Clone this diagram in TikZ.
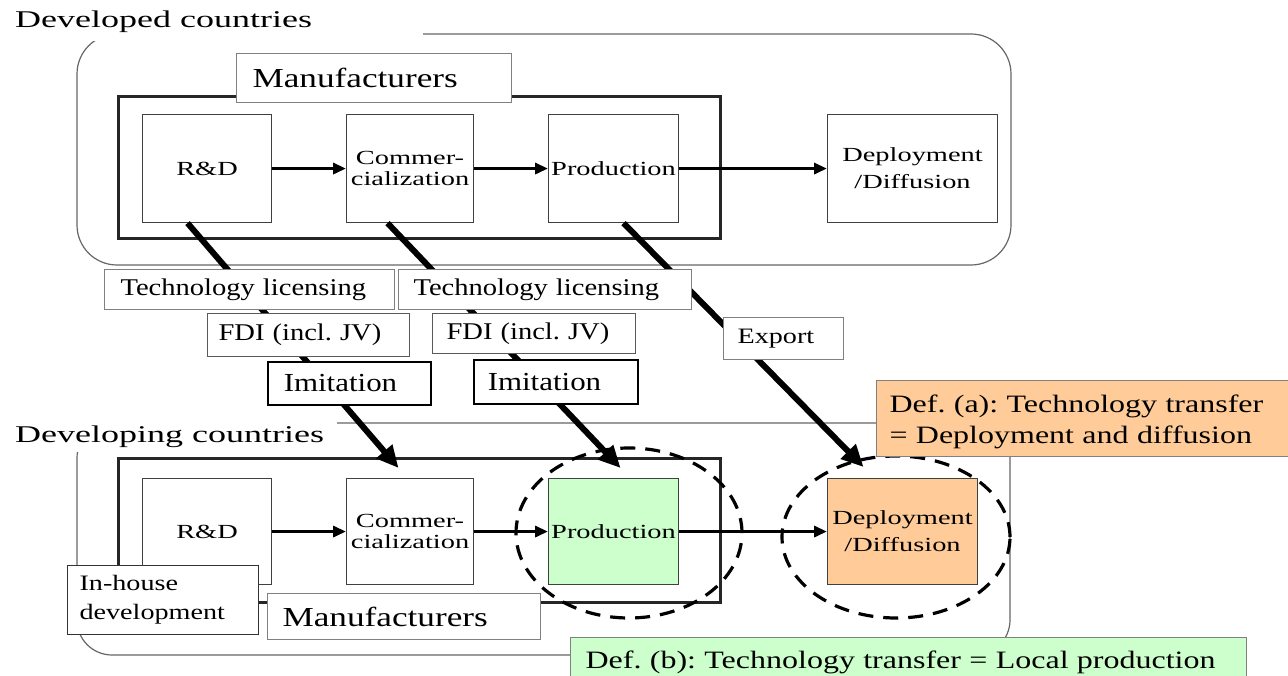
\documentclass[tikz,border=0pt]{standalone}
\usepackage{fontspec}
\setmainfont{Liberation Serif}
\newfontfamily\famA{Liberation Serif}[FakeStretch=1.42]
\newfontfamily\famB{Liberation Serif}[FakeStretch=1.28]
\newfontfamily\famC{Liberation Serif}[FakeStretch=1.19]
\newfontfamily\famD{Liberation Serif}[FakeStretch=1.5]
\usetikzlibrary{arrows.meta}
\definecolor{lgreen}{HTML}{CCFFCC}
\definecolor{lorange}{HTML}{FFCC99}
\frenchspacing
\begin{document}
\frenchspacing
\begin{tikzpicture}[x=1pt,y=-1pt,
  outerbox/.style={draw=black!60, line width=1.2pt},
  thickbox/.style={draw=black!85, line width=3pt},
  procbox/.style={draw=black!75, line width=1.1pt, fill=white, anchor=north west,
    inner sep=0pt, align=center, font=\famA\fontsize{20}{21}\selectfont},
  lblbox/.style={draw=black!50, line width=1.1pt, fill=white, anchor=north west,
    inner ysep=0pt, align=left},
  imbox/.style={lblbox, draw=black, line width=1.5pt},
  harrow/.style={line width=3.3pt, -{Triangle[length=13pt,width=11pt]}},
  darrow/.style={line width=6pt, -{Triangle[length=22pt,width=20pt]}},
  dashring/.style={draw=black, line width=3.2pt, dash pattern=on 15pt off 10pt},
  cfont/.style={font=\famD\fontsize{24}{28}\selectfont},
  mfont/.style={font=\famB\fontsize{27.5}{30}\selectfont},
  tfont/.style={font=\famC\fontsize{24}{28}\selectfont\frenchspacing},
  ifont/.style={font=\famC\fontsize{26}{30}\selectfont},
]
\useasboundingbox (0,0) rectangle (1288,676);
\clip (0,0) rectangle (1288,676);
\fill[white] (0,0) rectangle (1288,676);

% outer country frames
\draw[outerbox, rounded corners=40pt] (77,34) rectangle (1011,265);
\draw[outerbox, rounded corners=35pt] (77,423) rectangle (1010,655);
\fill[white] (0,0) rectangle (423,41);
\fill[white] (0,410) rectangle (337,452);
\node[cfont, anchor=base west, inner sep=0pt] (devd) at (15,28) {Developed countries};
\node[cfont, anchor=base west, inner sep=0pt] (devg) at (15,442) {Developing countries};

% manufacturer frames
\draw[thickbox] (118,97) rectangle (720,239);
\draw[thickbox] (118,458) rectangle (720,602);
\node[lblbox, mfont, minimum width=275, minimum height=49, inner xsep=16pt, text width=243pt] (mf1) at (236,53) {Manufacturers};

% process boxes, developed
\node[procbox, minimum width=129, minimum height=108] (rd1) at (142,114) {R\&D};
\node[procbox, minimum width=127, minimum height=108] (co1) at (346,114) {Commer-\\cialization};
\node[procbox, minimum width=130, minimum height=108] (pr1) at (548,114) {Production};
\node[procbox, minimum width=170, minimum height=108, font=\famA\fontsize{20}{27}\selectfont] (de1) at (827,114) {Deployment\\/Diffusion};

% process boxes, developing
\node[procbox, minimum width=129, minimum height=106] (rd2) at (142,478) {R\&D};
\node[procbox, minimum width=127, minimum height=106] (co2) at (346,478) {Commer-\\cialization};
\node[procbox, minimum width=130, minimum height=106, fill=lgreen] (pr2) at (548,478) {Production};
\node[procbox, minimum width=150, minimum height=106, fill=lorange, font=\famA\fontsize{20}{27}\selectfont] (de2) at (827,478) {Deployment\\/Diffusion};

% dashed rings
\draw[dashring] (629,533) ellipse [x radius=113pt, y radius=85pt];
\draw[dashring] (896,537) ellipse [x radius=114pt, y radius=81pt];

% flow arrows
\draw[harrow] (rd1) -- (co1);
\draw[harrow] (co1) -- (pr1);
\draw[harrow] (pr1) -- (de1);
\draw[harrow] (rd2) -- (co2);
\draw[harrow] (co2) -- (pr2);
\draw[harrow] (pr2) -- (de2);

% transfer channels
\draw[darrow] ([xshift=-19.5pt]rd1.south) -- ([xshift=-11.5pt,yshift=10pt]co2.north);
\draw[darrow] ([xshift=-22.5pt]co1.south) -- ([xshift=7pt,yshift=10pt]pr2.north);
\draw[darrow] ([xshift=10pt]pr1.south) -- ([xshift=-39pt,yshift=11pt]de2.north);

% channel labels
\node[lblbox, tfont, minimum width=290, minimum height=40, inner xsep=16pt, text width=258pt] (tl1) at (104,269) {Technology licensing};
\node[lblbox, tfont, minimum width=293, minimum height=40, inner xsep=15pt, text width=263pt] (tl2) at (398,269) {Technology licensing};
\node[lblbox, tfont, draw=black!65, minimum width=202, minimum height=43, inner xsep=11pt, text width=180pt] (fdi1) at (207,313) {FDI (incl. JV)};
\node[lblbox, tfont, draw=black!65, minimum width=203, minimum height=40, inner xsep=14pt, text width=175pt] (fdi2) at (432,313) {FDI (incl. JV)};
\node[imbox, ifont, minimum width=163, minimum height=43, inner xsep=16pt, text width=131pt] (im1) at (267,361) {Imitation};
\node[imbox, ifont, minimum width=164, minimum height=44, inner xsep=14pt, text width=136pt] (im2) at (473,359) {Imitation};
\node[lblbox, font=\famB\fontsize{22}{26}\selectfont, minimum width=120, minimum height=42, inner xsep=14pt, text width=92pt] (ex) at (723,317) {Export};

% developing-country labels
\node[lblbox, mfont, minimum width=273, minimum height=46, inner xsep=15pt, text width=243pt] (mf2) at (267,593) {Manufacturers};
\node[lblbox, draw=black!80, font=\famB\fontsize{22}{29}\selectfont, minimum width=191, minimum height=69, inner xsep=12pt, text width=167pt] (ih) at (67,565) {In-house\\development};

% definitions
\node[lblbox, fill=lorange, font=\famB\fontsize{25}{31}\selectfont\frenchspacing, minimum width=430, minimum height=76, inner xsep=13pt, text width=404pt] (defa) at (876,380) {\rule{0pt}{24pt}Def. (a): Technology transfer\\= Deployment and diffusion};
\node[lblbox, fill=lgreen, font=\famB\fontsize{25}{31}\selectfont\frenchspacing, inner xsep=15pt, text width=646pt, text height=31pt, text depth=40pt] (defb) at (570,637) {Def. (b): Technology transfer = Local production};
\end{tikzpicture}
\end{document}
